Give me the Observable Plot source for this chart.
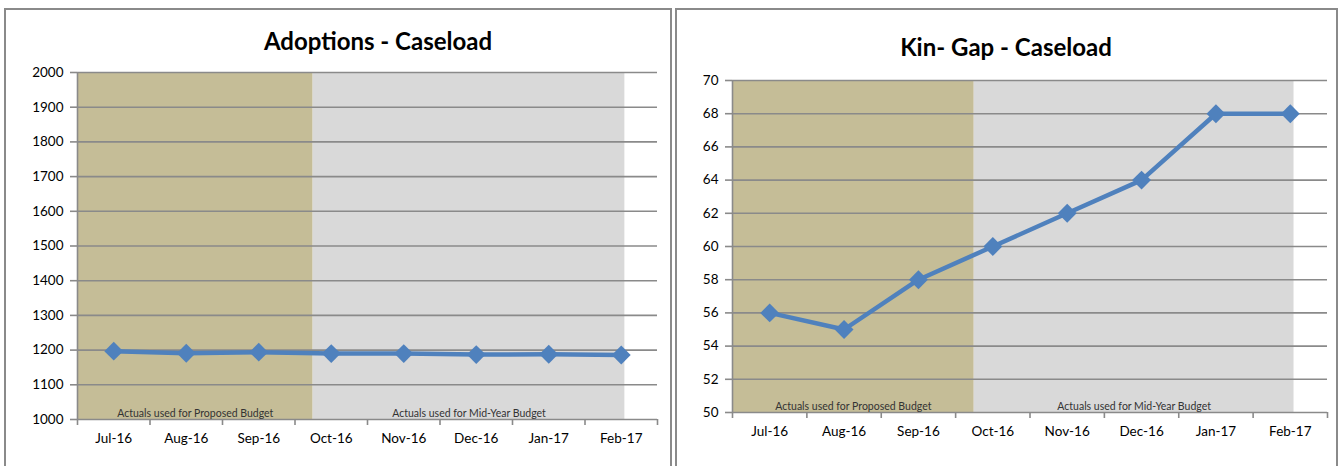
<!DOCTYPE html>
<html>
<head>
<meta charset="utf-8">
<script src="https://cdn.jsdelivr.net/npm/d3@7"></script>
<script src="https://cdn.jsdelivr.net/npm/@observablehq/plot@0.6"></script>
<style>
  html, body { margin: 0; padding: 0; background: #fff; }
  #page { position: relative; width: 1338px; height: 466px; overflow: hidden; font-family: Lato, "Open Sans", sans-serif; }
  .panel { position: absolute; top: 8px; height: 480px; border: 2px solid #8a8a8a; border-bottom: none; box-sizing: border-box; }
  .title { position: absolute; font-weight: bold; font-size: 24px; color: #000; transform: translate(-50%, -50%); white-space: nowrap; }
  .chart { position: absolute; top: 0; }
</style>
</head>
<body>
<div id="page">
  <div class="panel" style="left:4px; width:668px;"></div>
  <div class="panel" style="left:675px; width:663px;"></div>
  <div class="title" style="left:378px; top:40px;">Adoptions - Caseload</div>
  <div class="title" style="left:1006px; top:46px;">Kin- Gap - Caseload</div>
  <div class="chart" id="c1" style="left:0px;"></div>
  <div class="chart" id="c2" style="left:670px;"></div>
</div>
<script>
// ---- data ----
const months = ["Jul-16", "Aug-16", "Sep-16", "Oct-16", "Nov-16", "Dec-16", "Jan-17", "Feb-17"];
const adoptions = [1197, 1191, 1194, 1190, 1190, 1187, 1188, 1186];
const kinGap = [56, 55, 58, 60, 62, 64, 68, 68];
const periodLabels = ["Actuals used for Proposed Budget", "Actuals used for Mid-Year Budget"];
const periodStart = [-0.5, 2.75];
const periodEnd = [2.75, 7.05];
const periodColors = ["#c5bd97", "#d9d9d9"];
const adoptionTicks = [1000, 1100, 1200, 1300, 1400, 1500, 1600, 1700, 1800, 1900, 2000];
const kinGapTicks = [50, 52, 54, 56, 58, 60, 62, 64, 66, 68, 70];

const periods = periodLabels.map((label, k) => ({label, x1: periodStart[k], x2: periodEnd[k], fill: periodColors[k]}));
const idx = months.map((m, i) => i);
const boundaries = months.map((m, i) => i - 0.5).concat([months.length - 0.5]);

const gridColor = "#8a8a8a";
const lineColor = "#4f81bd";

function makeChart(values, ticks, opts) {
  const data = values.map((v, i) => ({i, v}));
  const yMin = ticks[0], yMax = ticks[ticks.length - 1];
  return Plot.plot({
    width: opts.width,
    height: 466,
    marginLeft: opts.marginLeft,
    marginRight: opts.marginRight,
    marginTop: opts.marginTop,
    marginBottom: opts.marginBottom,
    style: {fontFamily: "Lato, 'Open Sans', sans-serif", fontSize: "13px", color: "#000", background: "transparent", overflow: "visible"},
    x: {domain: [-0.5, months.length - 0.5], label: null},
    y: {domain: [yMin, yMax], label: null},
    marks: [
      Plot.rect(periods, {x1: "x1", x2: "x2", y1: yMin, y2: yMax, fill: "fill"}),
      Plot.ruleY(ticks, {stroke: gridColor, strokeWidth: 1.6}),
      Plot.ruleX([-0.5], {stroke: gridColor, strokeWidth: 1.6}),
      Plot.text(periods, {x: d => (d.x1 + d.x2) / 2, frameAnchor: "bottom", dy: -3, text: "label", fontSize: 10.5, fill: "#333"}),
      Plot.axisY(ticks, {tickSize: 7, tickPadding: 7, stroke: gridColor, strokeWidth: 1.6, fontSize: 13.5, fill: "#000", tickFormat: d => String(d), label: null}),
      Plot.axisX(boundaries, {tickSize: 6, tickFormat: () => "", stroke: gridColor, strokeWidth: 1.6, label: null}),
      Plot.axisX(idx, {tickSize: 0, tickPadding: opts.labelPad, tickFormat: i => months[i], fontSize: 13.5, fill: "#000", label: null}),
      Plot.line(data, {x: "i", y: "v", stroke: lineColor, strokeWidth: 4.5}),
      Plot.dot(data, {x: "i", y: "v", symbol: "diamond2", r: 8.5, fill: lineColor, stroke: "none"})
    ]
  });
}

document.getElementById("c1").appendChild(makeChart(adoptions, adoptionTicks, {
  width: 670, marginLeft: 77, marginRight: 13, marginTop: 72, marginBottom: 47, labelPad: 14
}));
document.getElementById("c2").appendChild(makeChart(kinGap, kinGapTicks, {
  width: 668, marginLeft: 62, marginRight: 11, marginTop: 80, marginBottom: 54, labelPad: 14
}));
</script>
</body>
</html>
